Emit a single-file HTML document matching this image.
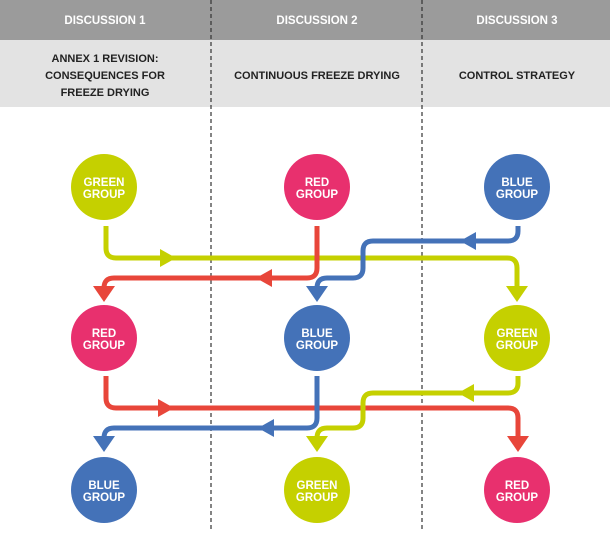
<!DOCTYPE html>
<html><head><style>
body{margin:0;width:610px;height:532px;overflow:hidden;background:#fff;font-family:"Liberation Sans",sans-serif}
</style></head><body>
<svg width="610" height="532" viewBox="0 0 610 532" xmlns="http://www.w3.org/2000/svg" font-family="Liberation Sans, sans-serif" font-weight="bold">
<rect x="0" y="0" width="610" height="40" fill="#9b9b9b"/>
<rect x="0" y="40" width="610" height="67" fill="#e3e3e3"/>
<g fill="#fff" font-size="11.5" text-anchor="middle">
<text x="105" y="24">DISCUSSION 1</text>
<text x="317" y="24">DISCUSSION 2</text>
<text x="517" y="24">DISCUSSION 3</text>
</g>
<g fill="#222" font-size="11" text-anchor="middle">
<text x="105" y="62">ANNEX 1 REVISION:</text>
<text x="105" y="79">CONSEQUENCES FOR</text>
<text x="105" y="96">FREEZE DRYING</text>
<text x="317" y="79">CONTINUOUS FREEZE DRYING</text>
<text x="517" y="79">CONTROL STRATEGY</text>
</g>
<g stroke="#333" stroke-width="1.2" stroke-dasharray="4,3">
<line x1="211" y1="0" x2="211" y2="532"/>
<line x1="422" y1="0" x2="422" y2="532"/>
</g>
<g fill="none" stroke-width="5" stroke-linecap="butt">
<path d="M106 226 V248 Q106 258 116 258 H507 Q517 258 517 268 V290" stroke="#c5d000"/>
<path d="M317 226 V268 Q317 278 307 278 H114 Q104 278 104 288 V290" stroke="#e8463a"/>
<path d="M518 226 V231 Q518 241 508 241 H373 Q363 241 363 251 V268 Q363 278 353 278 H327 Q317 278 317 288 V290" stroke="#4472b8"/>
<path d="M106 376 V398 Q106 408 116 408 H508 Q518 408 518 418 V440" stroke="#e8463a"/>
<path d="M317 376 V418 Q317 428 307 428 H114 Q104 428 104 438 V440" stroke="#4472b8"/>
<path d="M518 376 V383 Q518 393 508 393 H373 Q363 393 363 403 V418 Q363 428 353 428 H327 Q317 428 317 438 V440" stroke="#c5d000"/>
</g>
<g>
<polygon points="506,286 528,286 517,302" fill="#c5d000"/>
<polygon points="160,249 176,258 160,267" fill="#c5d000"/>
<polygon points="93,286 115,286 104,302" fill="#e8463a"/>
<polygon points="272,269 256,278 272,287" fill="#e8463a"/>
<polygon points="306,286 328,286 317,302" fill="#4472b8"/>
<polygon points="476,232 460,241 476,250" fill="#4472b8"/>
<polygon points="507,436 529,436 518,452" fill="#e8463a"/>
<polygon points="158,399 174,408 158,417" fill="#e8463a"/>
<polygon points="93,436 115,436 104,452" fill="#4472b8"/>
<polygon points="274,419 258,428 274,437" fill="#4472b8"/>
<polygon points="306,436 328,436 317,452" fill="#c5d000"/>
<polygon points="474,384 458,393 474,402" fill="#c5d000"/>
</g>
<g>
<circle cx="104" cy="187" r="33" fill="#c5d000"/>
<circle cx="317" cy="187" r="33" fill="#e8306e"/>
<circle cx="517" cy="187" r="33" fill="#4472b8"/>
<circle cx="104" cy="338" r="33" fill="#e8306e"/>
<circle cx="317" cy="338" r="33" fill="#4472b8"/>
<circle cx="517" cy="338" r="33" fill="#c5d000"/>
<circle cx="104" cy="490" r="33" fill="#4472b8"/>
<circle cx="317" cy="490" r="33" fill="#c5d000"/>
<circle cx="517" cy="490" r="33" fill="#e8306e"/>
</g>
<g fill="#fff" font-size="11.5" text-anchor="middle">
<text x="104" y="186">GREEN</text><text x="104" y="198">GROUP</text>
<text x="317" y="186">RED</text><text x="317" y="198">GROUP</text>
<text x="517" y="186">BLUE</text><text x="517" y="198">GROUP</text>
<text x="104" y="337">RED</text><text x="104" y="349">GROUP</text>
<text x="317" y="337">BLUE</text><text x="317" y="349">GROUP</text>
<text x="517" y="337">GREEN</text><text x="517" y="349">GROUP</text>
<text x="104" y="489">BLUE</text><text x="104" y="501">GROUP</text>
<text x="317" y="489">GREEN</text><text x="317" y="501">GROUP</text>
<text x="517" y="489">RED</text><text x="517" y="501">GROUP</text>
</g>
</svg>
</body></html>
